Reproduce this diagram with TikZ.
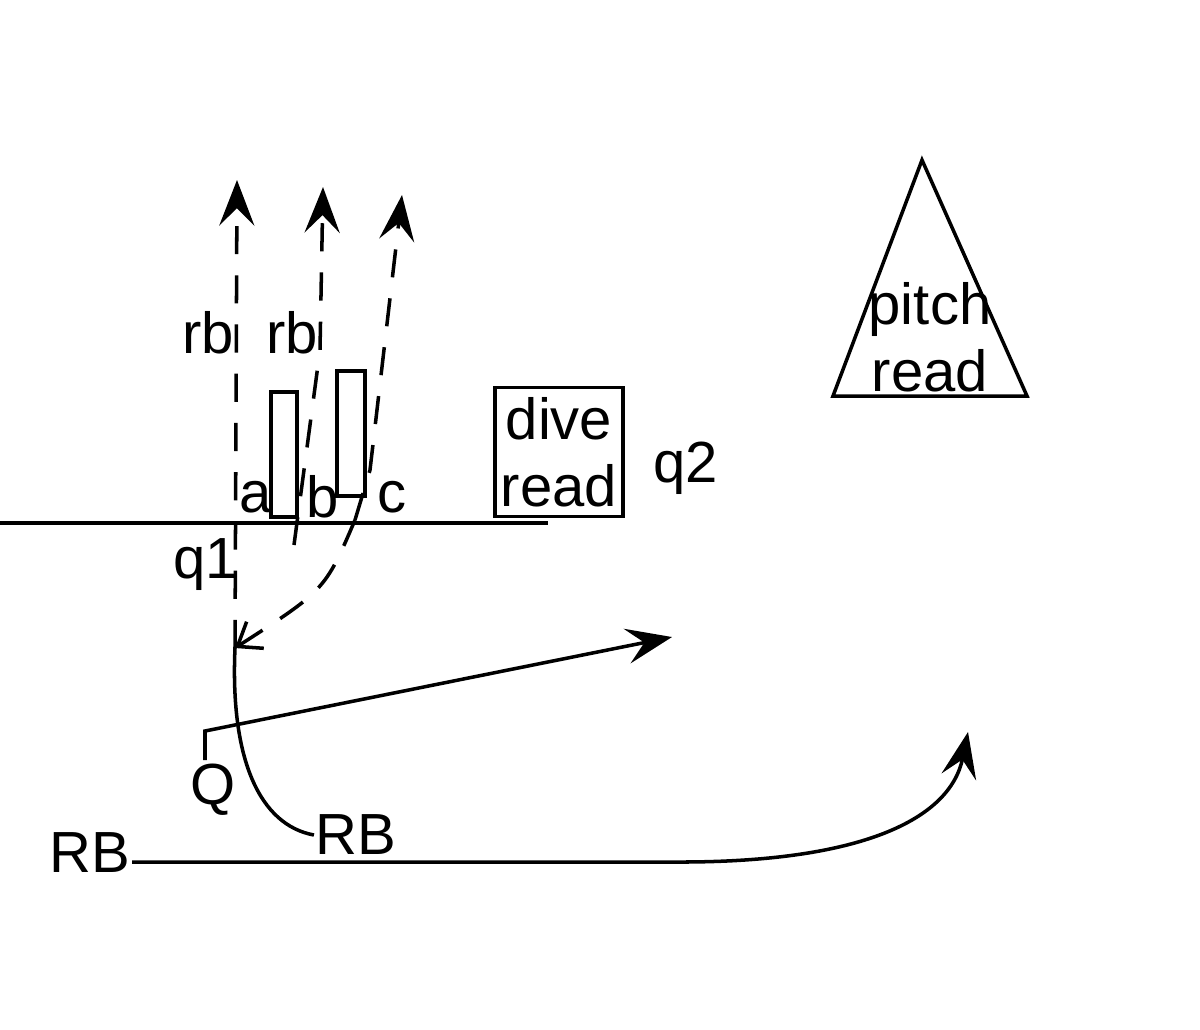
\documentclass[tikz,border=0pt]{standalone}
\usepackage{fontspec}
\setmainfont{Liberation Sans}
\usetikzlibrary{arrows.meta}

\begin{document}
\begin{tikzpicture}[x=0.01cm, y=-0.01cm, line width=1pt,
    lbl/.style={font=\fontsize{16.5}{16.5}\selectfont, inner sep=0pt},
    route/.style={dash pattern=on 8pt off 6pt},
    tip/.style={-{Stealth[length=13pt, width=10pt, inset=5pt]}}]

    \useasboundingbox (0,0) rectangle (1200,1029);

    % line of scrimmage
    \coordinate (los1) at (0,523);
    \coordinate (los2) at (548,523);
    \draw (los1) -- (los2);

    % blockers
    \draw (271,392) rectangle (297,517);
    \draw (337,371) rectangle (365,496);

    % dive read box
    \node[draw, minimum width=128*0.01cm, minimum height=129*0.01cm, inner sep=0pt,
        align=center, font=\fontsize{16.5}{19}\selectfont] (dive) at (559,452) {dive\\read};

    % pitch read triangle
    \coordinate (tA) at (922,160);
    \coordinate (tB) at (833,396);
    \coordinate (tC) at (1027,396);
    \draw (tA) -- (tB) -- (tC) -- cycle;
    \node[align=center, font=\fontsize{16.5}{19}\selectfont] (pitch) at (930,337) {pitch\\read};

    % labels
    \node[lbl] (rb1) at (208,333) {rb};
    \node[lbl] (rb2) at (292,333) {rb};
    \node[lbl] (a) at (256,497) {a};
    \node[lbl] (b) at (323,497) {b};
    \node[lbl] (c) at (392,497) {c};
    \node[lbl] (q1) at (206,565) {q1};
    \node[lbl] (q2) at (686,468) {q2};
    \node[lbl] (Q) at (213,790) {Q};
    \node[lbl] (RBa) at (356,835) {RB};
    \node[lbl] (RBb) at (90,853) {RB};

    % dashed reads
    \coordinate (mesh) at (235,648);
    \draw[route, tip] (mesh) -- (237,180);
    \draw[route, tip] (294,545) -- (320,350) -- (323,187);
    \draw[route, tip] (355,520) -- (370,470) -- (402,195);
    \draw[route, -{Straight Barb[length=6pt, width=9pt]}] (355,520) .. controls (325,590) .. (mesh);

    % quarterback path
    \draw[tip] (205,760) -- (205,731) -- (672,637);

    % running back path
    \draw (mesh) .. controls (230,760) and (260,825) .. (RBa.west);
    \draw[tip] (RBb.east |- 0,862) -- (680,862) .. controls (860,862) and (950,820) .. (968,732);

\end{tikzpicture}
\end{document}
